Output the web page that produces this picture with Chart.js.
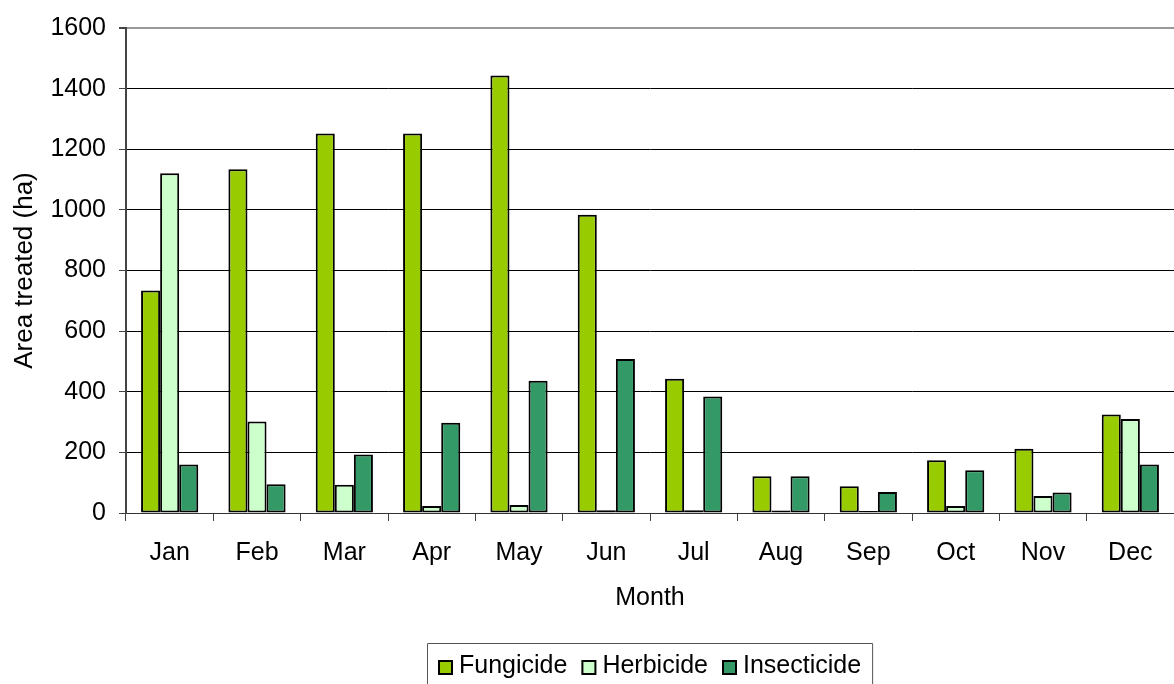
<!DOCTYPE html>
<html>
<head>
<meta charset="utf-8">
<script src="https://cdn.jsdelivr.net/npm/chart.js@4/dist/chart.umd.min.js"></script>
<style>
  html, body { margin: 0; padding: 0; background: #fff; }
  #wrap { width: 1174px; height: 684px; position: relative; }
</style>
</head>
<body>
<div id="wrap"><canvas id="c" width="1174" height="684"></canvas></div>
<script>
const months = ['Jan','Feb','Mar','Apr','May','Jun','Jul','Aug','Sep','Oct','Nov','Dec'];
const fungicide   = [734, 1134, 1252, 1252, 1443, 984, 443, 121, 88, 174, 212, 325];
const herbicide   = [1121, 302, 93, 23, 26, 9, 9, 8, 7, 23, 56, 310];
const insecticide = [160, 95, 193, 298, 436, 508, 384, 121, 69, 141, 68, 160];
const yTicks = [0, 200, 400, 600, 800, 1000, 1200, 1400, 1600];

const FONT = '"Liberation Sans", Arial, sans-serif';
const FS = 25;

const legendBox = {
  id: 'legendBox',
  afterDraw(chart) {
    const ctx = chart.ctx;
    ctx.save();
    ctx.font = FS + 'px ' + FONT;
    const sq = 15, gapText = 6, gapItem = 14, pad = 11;
    const items = chart.data.datasets.map(d => ({label: d.label, color: d.backgroundColor, w: ctx.measureText(d.label).width}));
    let total = 0;
    items.forEach((it, i) => { total += sq + gapText + it.w + (i < items.length - 1 ? gapItem : 0); });
    const cx = (chart.chartArea.left + chart.chartArea.right) / 2;
    let x = Math.round(cx - total / 2);
    const boxL = x - pad, boxR = x + total + pad;
    const boxT = 643.5, cy = 666;
    ctx.strokeStyle = '#555';
    ctx.lineWidth = 1;
    ctx.beginPath();
    ctx.moveTo(boxL + 0.5, 700);
    ctx.lineTo(boxL + 0.5, boxT);
    ctx.lineTo(boxR + 0.5, boxT);
    ctx.lineTo(boxR + 0.5, 700);
    ctx.stroke();
    items.forEach(it => {
      ctx.fillStyle = it.color;
      ctx.fillRect(x, cy - 6, sq, sq);
      ctx.strokeStyle = '#000';
      ctx.lineWidth = 2;
      ctx.strokeRect(x + 1, cy - 6 + 1, sq - 2, sq - 2);
      x += sq + gapText;
      ctx.fillStyle = '#000';
      ctx.textBaseline = 'middle';
      ctx.textAlign = 'left';
      ctx.fillText(it.label, x, cy);
      x += it.w + gapItem;
    });
    ctx.restore();
  }
};

new Chart(document.getElementById('c'), {
  type: 'bar',
  data: {
    labels: months,
    datasets: [
      { label: 'Fungicide', data: fungicide, backgroundColor: '#99CC00' },
      { label: 'Herbicide', data: herbicide, backgroundColor: '#CCFFCC' },
      { label: 'Insecticide', data: insecticide, backgroundColor: '#339966' }
    ]
  },
  options: {
    responsive: false,
    animation: false,
    layout: { padding: { left: 0, top: 26, right: -8, bottom: 0 } },
    datasets: {
      bar: {
        borderColor: '#000',
        borderWidth: 2,
        categoryPercentage: 0.655,
        barPercentage: 1.0,
        borderSkipped: false
      }
    },
    plugins: {
      legend: { display: false },
      tooltip: { enabled: false }
    },
    scales: {
      x: {
        offset: true,
        afterFit(s) { s.height = 684 - 513; },
        grid: {
          offset: true,
          drawOnChartArea: false,
          drawTicks: true,
          tickLength: 8,
          color: '#444',
          lineWidth: 1
        },
        border: { color: '#333', width: 1 },
        ticks: {
          color: '#000',
          font: { family: FONT, size: FS },
          padding: 17,
          maxRotation: 0
        },
        title: {
          display: true,
          text: 'Month',
          color: '#000',
          font: { family: FONT, size: FS },
          padding: { top: 0, bottom: 71 }
        }
      },
      y: {
        min: 0,
        max: 1600,
        afterFit(s) { s.width = 126; },
        afterBuildTicks(s) { s.ticks = yTicks.map(v => ({ value: v })); },
        grid: {
          drawTicks: true,
          tickLength: 7,
          color: ctx => (ctx.tick && ctx.tick.value === 1600) ? '#999' : '#000',
          lineWidth: ctx => (ctx.tick && ctx.tick.value === 1600) ? 2 : 1,
          tickColor: '#444'
        },
        border: { color: '#444', width: 2 },
        ticks: {
          color: '#000',
          font: { family: FONT, size: FS },
          padding: 13,
          callback: v => String(v)
        },
        title: {
          display: true,
          text: 'Area treated (ha)',
          color: '#000',
          font: { family: FONT, size: 26 },
          padding: { top: 9, bottom: 0 }
        }
      }
    }
  },
  plugins: [legendBox]
});
</script>
</body>
</html>
